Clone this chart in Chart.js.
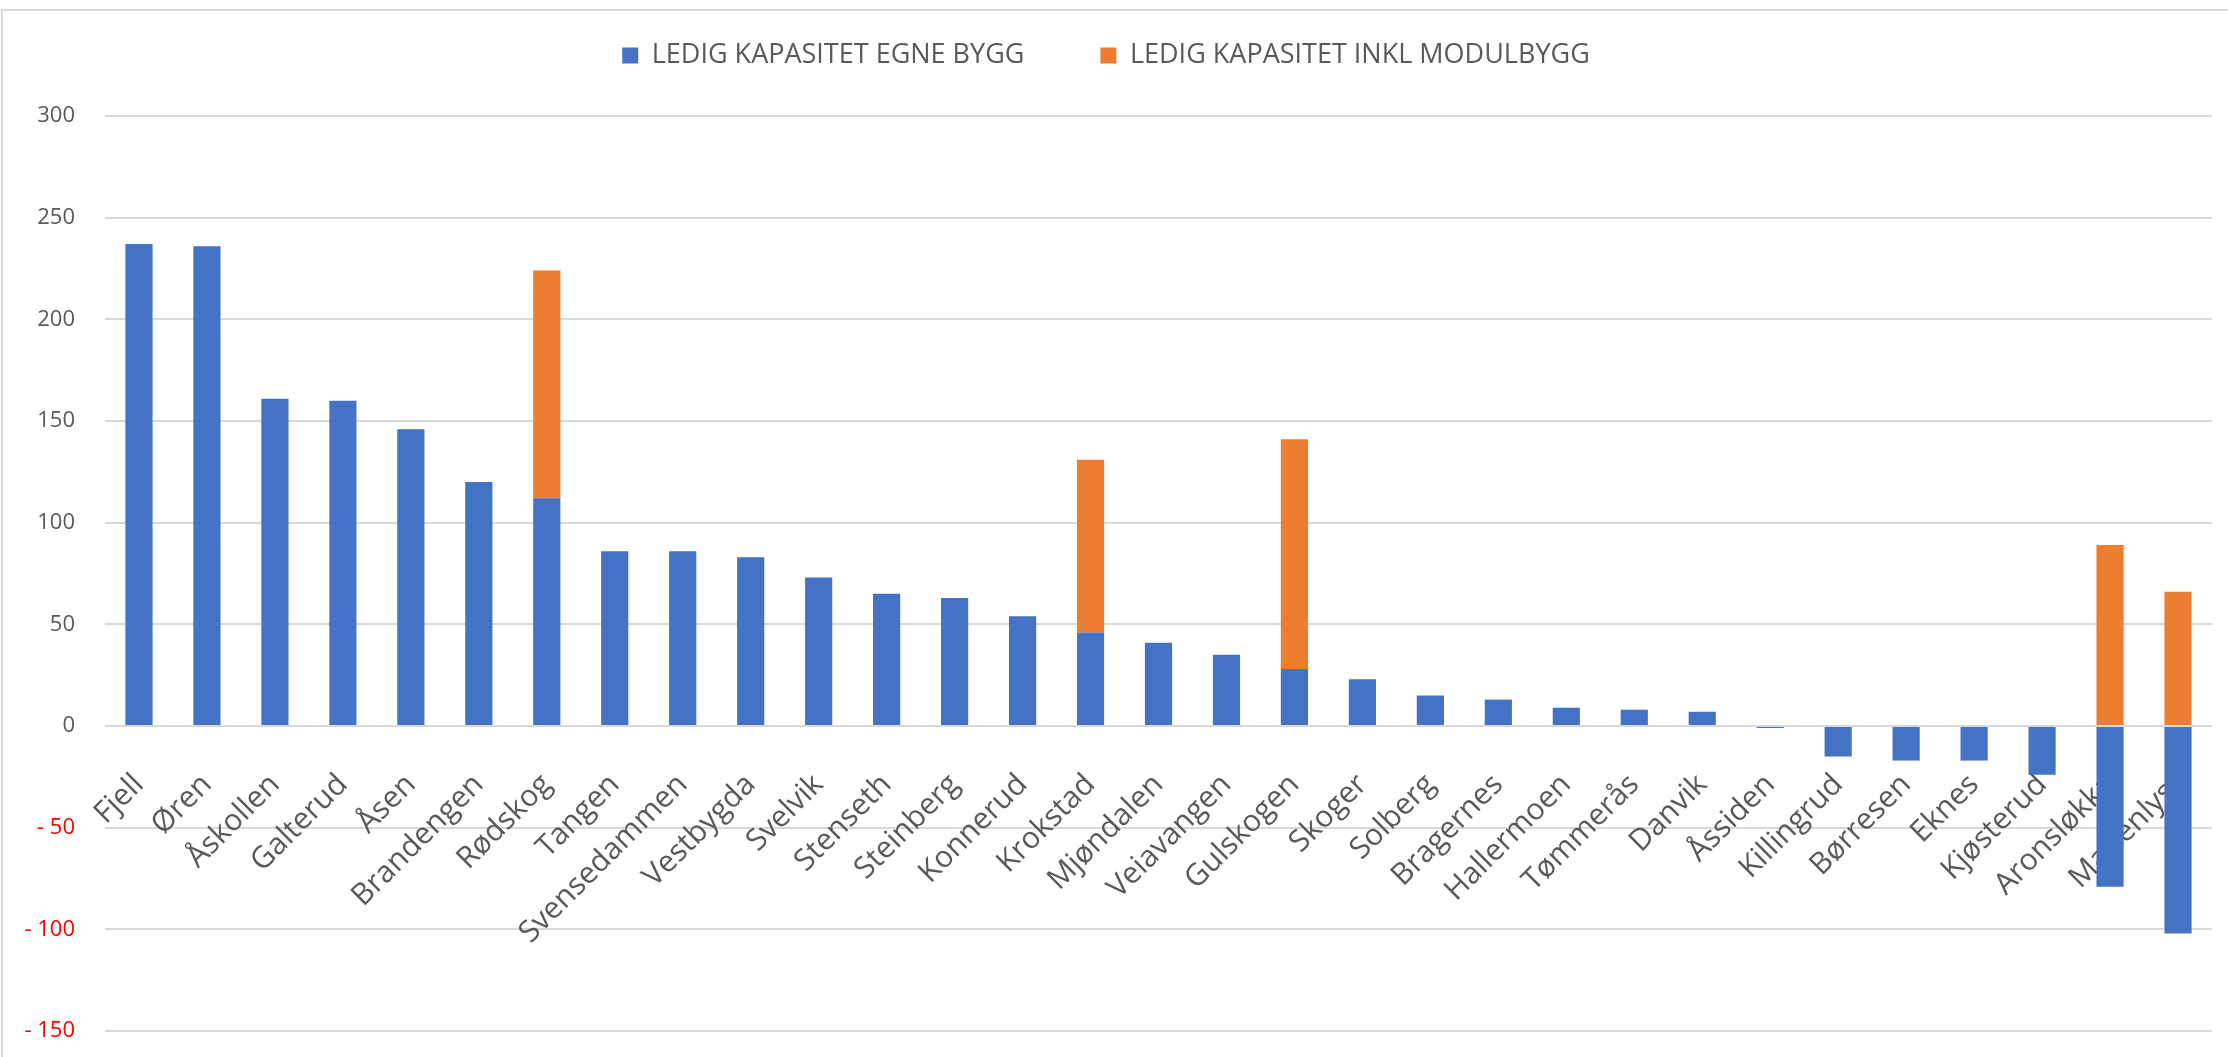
<!DOCTYPE html>
<html>
<head>
<meta charset="utf-8">
<script src="https://cdn.jsdelivr.net/npm/chart.js@4.4.1/dist/chart.umd.min.js"></script>
<style>
  html, body { margin: 0; padding: 0; background: #ffffff; }
  #wrap { position: relative; width: 2228px; height: 1057px; overflow: hidden; }
  #frame { position: absolute; left: 1px; top: 9px; width: 2240px; height: 1100px; border: 2px solid #d9d9d9; box-sizing: border-box; }
  #c { position: absolute; left: 0; top: 0; }
</style>
</head>
<body>
<div id="wrap">
  <div id="frame"></div>
  <canvas id="c" width="2228" height="1057"></canvas>
</div>
<script>
const categories = ["Fjell", "Øren", "Åskollen", "Galterud", "Åsen", "Brandengen", "Rødskog", "Tangen",
  "Svensedammen", "Vestbygda", "Svelvik", "Stenseth", "Steinberg", "Konnerud", "Krokstad", "Mjøndalen",
  "Veiavangen", "Gulskogen", "Skoger", "Solberg", "Bragernes", "Hallermoen", "Tømmerås", "Danvik",
  "Åssiden", "Killingrud", "Børresen", "Eknes", "Kjøsterud", "Aronsløkka", "Marienlyst"];
const egneBygg = [237, 236, 161, 160, 146, 120, 112, 86, 86, 83, 73, 65, 63, 54, 46, 41,
  35, 28, 23, 15, 13, 9, 8, 7, -1, -15, -17, -17, -24, -79, -102];
const modulBygg = [0, 0, 0, 0, 0, 0, 112, 0, 0, 0, 0, 0, 0, 0, 85, 0,
  0, 113, 0, 0, 0, 0, 0, 0, 0, 0, 0, 0, 0, 89, 66];
const seriesNames = ["LEDIG KAPASITET EGNE BYGG", "LEDIG KAPASITET INKL MODULBYGG"];
const yTicks = { min: -150, max: 300, step: 50 };

const FONT = "'Open Sans', 'Noto Sans', sans-serif";
const LEGEND_GAP = 76;      // horizontal gap between legend items
const LEGEND_EXTRA = 37;    // extra space below the legend row

const legendSpacer = {
  id: 'legendSpacer',
  beforeLayout(chart) {
    const lg = chart.legend;
    if (lg && !lg._spacerWrapped) {
      const origFit = lg.fit;
      lg.fit = function () { origFit.call(this); this.height += LEGEND_EXTRA; };
      lg._spacerWrapped = true;
    }
  }
};
const noPad = (s) => { s.paddingLeft = 0; s.paddingRight = 0; s.paddingTop = 0; s.paddingBottom = 0; };

new Chart(document.getElementById('c'), {
  type: 'bar',
  data: {
    labels: categories,
    datasets: [
      { label: seriesNames[0], data: egneBygg, backgroundColor: '#4472c4', stack: 's',
        barPercentage: 0.8, categoryPercentage: 0.5 },
      { label: seriesNames[1], data: modulBygg, backgroundColor: '#ed7d31', stack: 's',
        barPercentage: 0.8, categoryPercentage: 0.5 }
    ]
  },
  plugins: [legendSpacer],
  options: {
    responsive: false,
    animation: false,
    devicePixelRatio: 1,
    layout: { padding: { left: 0, right: 16, top: -34, bottom: 26 } },
    plugins: {
      tooltip: { enabled: false },
      legend: {
        position: 'top',
        labels: {
          color: '#595959',
          font: { family: FONT, size: 27 },
          boxWidth: 16, boxHeight: 16,
          padding: LEGEND_GAP
        }
      }
    },
    scales: {
      x: {
        stacked: true,
        position: { y: 0 },
        grid: { display: false, drawTicks: false },
        border: { display: false },
        ticks: {
          color: '#595959',
          font: { family: FONT, size: 30 },
          minRotation: 45, maxRotation: 45,
          padding: 41,
          autoSkip: false
        },
        afterFit: noPad
      },
      y: {
        stacked: true,
        min: yTicks.min, max: yTicks.max,
        grid: { color: '#d9d9d9', lineWidth: 2, drawTicks: false },
        border: { display: false },
        ticks: {
          stepSize: yTicks.step,
          padding: 30,
          font: { family: FONT, size: 22 },
          color: (ctx) => ctx.tick && ctx.tick.value < 0 ? '#ff0000' : '#595959',
          callback: (v) => v < 0 ? '- ' + Math.abs(v) : String(v)
        },
        afterFit: (s) => { s.width = 105; noPad(s); }
      }
    }
  }
});
</script>
</body>
</html>
